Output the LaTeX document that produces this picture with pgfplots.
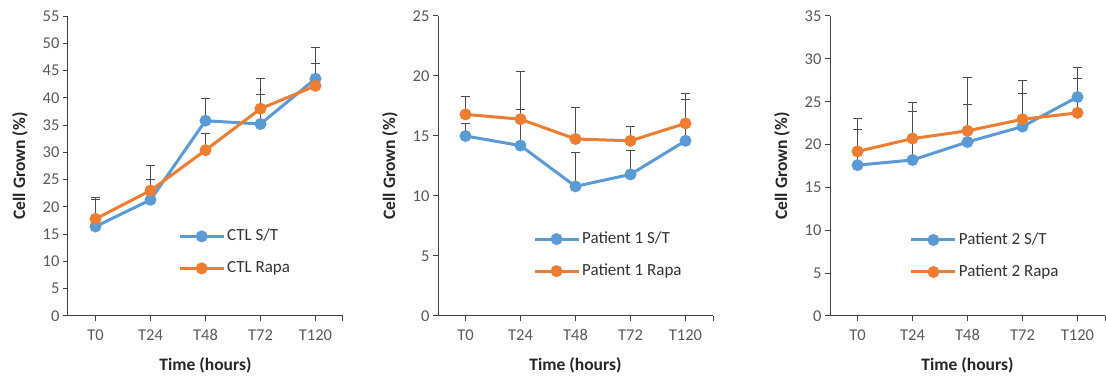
\documentclass[border=0pt]{standalone}
\usepackage{fontspec}
\setmainfont{Carlito}
\usepackage{pgfplots}
\pgfplotsset{compat=1.18}
\definecolor{xblue}{HTML}{5B9BD5}
\definecolor{xorange}{HTML}{ED7D31}
\definecolor{axgray}{HTML}{595959}

\pgfplotsset{
  panel/.style={
    scale only axis, width=275pt, height=300pt,
    xmin=-0.5, xmax=4.5, ymin=0,
    axis x line*=bottom, axis y line*=left,
    axis line style={black!75, line width=1pt},
    xtick={0,...,4}, xticklabels={T0,T24,T48,T72,T120},
    minor xtick={4.5},
    tick align=outside, major tick length=5pt, minor tick length=5pt,
    tick style={black!75, line width=1pt},
    /pgf/number format/assume math mode=true,
    tick label style={font=\fontsize{16.5}{19}\selectfont, text=axgray},
    xticklabel style={yshift=-5pt},
    label style={font=\bfseries\fontsize{17.5}{20}\selectfont, text=black!85},
    xlabel={Time (hours)}, ylabel={Cell Grown (\%)},
    ylabel style={at={(axis description cs:-0.175,0.5)}, anchor=center},
    xlabel style={at={(axis description cs:0.5,-0.163)}, anchor=center},
    legend image code/.code={\draw[mark repeat=2,mark phase=2,#1] plot coordinates {(0pt,0pt) (22pt,0pt) (44pt,0pt)};},
    legend cell align=left,
    legend style={draw=none, fill=none, inner sep=0pt, row sep=13pt,
      nodes={inner sep=2pt, text height=12pt, text depth=3pt, font=\fontsize{17}{20}\selectfont, text=black!80}},
  },
  ser/.style={color=#1, line width=3pt, mark=*, mark size=4.4pt, mark options={solid, fill=#1},
    error bars/.cd, y dir=plus, y explicit,
    error bar style={line width=1pt, color=black!70},
    error mark options={rotate=90, mark size=4.5pt, line width=1pt, black!70}},
}

\begin{document}
\begin{tikzpicture}
\useasboundingbox (0,0) rectangle (1106pt,379pt);

% Panel 1
\begin{axis}[panel, at={(68pt,63pt)}, anchor=south west, ymax=55, ytick={0,5,...,55},
  legend style={at={(axis description cs:0.40,0.212)}, anchor=west}]
\addplot[ser=xblue] table[x=x, y=y, y error=e, row sep=\\] {
x y e \\ 0 16.4 4.9 \\ 1 21.3 3.8 \\ 2 35.8 4.0 \\ 3 35.2 5.4 \\ 4 43.5 5.8 \\ };
\addlegendentry{CTL S/T}
\addplot[ser=xorange] table[x=x, y=y, y error=e, row sep=\\] {
x y e \\ 0 17.8 4.0 \\ 1 23.0 4.6 \\ 2 30.4 3.1 \\ 3 38.0 5.5 \\ 4 42.2 4.1 \\ };
\addlegendentry{CTL Rapa}
\end{axis}

% Panel 2
\begin{axis}[panel, at={(438pt,63pt)}, anchor=south west, ymax=25, ytick={0,5,...,25},
  legend style={at={(axis description cs:0.345,0.203)}, anchor=west}]
\addplot[ser=xblue] table[x=x, y=y, y error=e, row sep=\\] {
x y e \\ 0 15.0 1.0 \\ 1 14.2 3.0 \\ 2 10.8 2.8 \\ 3 11.8 2.0 \\ 4 14.6 3.45 \\ };
\addlegendentry{Patient 1 S/T}
\addplot[ser=xorange] table[x=x, y=y, y error=e, row sep=\\] {
x y e \\ 0 16.8 1.5 \\ 1 16.4 4.0 \\ 2 14.75 2.65 \\ 3 14.6 1.2 \\ 4 16.05 2.45 \\ };
\addlegendentry{Patient 1 Rapa}
\end{axis}

% Panel 3
\begin{axis}[panel, at={(830pt,63pt)}, anchor=south west, ymax=35, ytick={0,5,...,35},
  legend style={at={(axis description cs:0.29,0.20)}, anchor=west}]
\addplot[ser=xblue] table[x=x, y=y, y error=e, row sep=\\] {
x y e \\ 0 17.6 4.2 \\ 1 18.2 5.6 \\ 2 20.3 4.4 \\ 3 22.1 3.8 \\ 4 25.55 3.45 \\ };
\addlegendentry{Patient 2 S/T}
\addplot[ser=xorange] table[x=x, y=y, y error=e, row sep=\\] {
x y e \\ 0 19.2 3.8 \\ 1 20.7 4.2 \\ 2 21.6 6.25 \\ 3 22.95 4.55 \\ 4 23.7 3.95 \\ };
\addlegendentry{Patient 2 Rapa}
\end{axis}
\end{tikzpicture}
\end{document}
